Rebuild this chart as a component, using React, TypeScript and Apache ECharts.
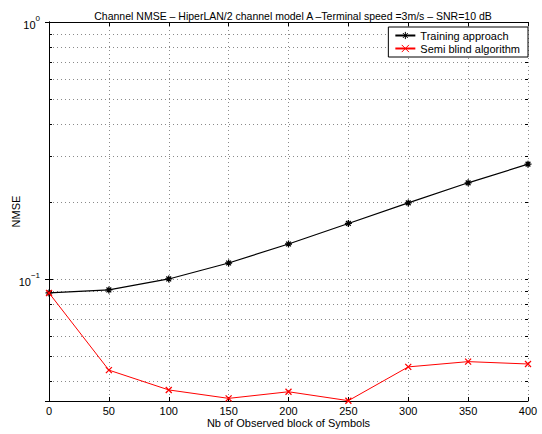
import React, { useEffect, useRef } from "react";
import * as echarts from "echarts";

const xValues = [0, 50, 100, 150, 200, 250, 300, 350, 400];
const training = [0.0884, 0.0908, 0.1002, 0.1156, 0.137, 0.1647, 0.198, 0.237, 0.28];
const semiBlind = [0.0884, 0.0443, 0.0371, 0.0344, 0.0365, 0.0337, 0.0456, 0.0478, 0.0468];
const yGridValues = [0.04, 0.05, 0.06, 0.07, 0.08, 0.09, 0.1, 0.2, 0.3, 0.4, 0.5, 0.6, 0.7, 0.8, 0.9];
const yMin = 0.0336;
const yMax = 1;
const xMin = 0;
const xMax = 400;
const xInterval = 50;

const FONT = "'Liberation Sans', Arial, Helvetica, sans-serif";
const asterisk = "path://M5,0L5,10M0,5L10,5M1.6,1.6L8.4,8.4M8.4,1.6L1.6,8.4";
const cross = "path://M0,0L10,10M10,0L0,10";

export default function App() {
  const ref = useRef<HTMLDivElement>(null);
  useEffect(() => {
    if (!ref.current) return;
    const chart = echarts.init(ref.current, null, { renderer: "svg" });
    const gridLine = { color: "#8a8a8a", type: [1, 3] as any, width: 1 };
    const tickLen = 4;
    const minorTickData: any[] = [];
    yGridValues.forEach((v) => {
      minorTickData.push([{ coord: [xMin, v] }, { coord: [xMin + 2.5, v] }]);
      minorTickData.push([{ coord: [xMax - 2.5, v] }, { coord: [xMax, v] }]);
    });
    const fmtLog = (v: number) => {
      const e = Math.log10(v);
      if (Math.abs(e - Math.round(e)) > 1e-6) return "";
      const r = Math.round(e);
      return `{b|10}{s|${r === 0 ? "0" : "\u2212" + Math.abs(r)}}`;
    };
    chart.setOption({
      animation: false,
      textStyle: { fontFamily: FONT },
      title: {
        text: "Channel NMSE \u2013 HiperLAN/2 channel model A \u2013Terminal speed =3m/s \u2013 SNR=10 dB",
        left: 288,
        textAlign: "center",
        top: 5,
        textStyle: { fontSize: 10.5, fontWeight: "normal", color: "#000", fontFamily: FONT },
      },
      legend: {
        orient: "vertical",
        right: 14,
        top: 27,
        backgroundColor: "#fff",
        borderColor: "#000",
        borderWidth: 1,
        borderRadius: 0,
        padding: [3, 8, 3, 6],
        itemGap: 2,
        itemWidth: 20,
        itemHeight: 9,
        itemStyle: { color: "transparent", borderWidth: 1 },
        textStyle: { fontSize: 11, color: "#000", fontFamily: FONT },
        data: ["Training approach", "Semi blind algorithm"],
      },
      grid: { left: 49, right: 14, top: 22, bottom: 33, containLabel: false, outerBoundsMode: "none" },
      xAxis: [
        {
          type: "value",
          min: xMin,
          max: xMax,
          interval: xInterval,
          name: "Nb of Observed block of Symbols",
          nameLocation: "middle",
          nameGap: 16,
          nameMoveOverlap: false,
          nameTextStyle: { fontSize: 11, color: "#000", fontFamily: FONT },
          axisLine: { lineStyle: { color: "#000", width: 1 } },
          axisTick: { inside: true, length: tickLen, lineStyle: { color: "#000" } },
          axisLabel: { fontSize: 11, color: "#000", margin: 4, fontFamily: FONT },
          splitLine: { show: true, lineStyle: gridLine },
        },
        {
          type: "value",
          position: "top",
          min: xMin,
          max: xMax,
          interval: xInterval,
          axisLine: { lineStyle: { color: "#000", width: 1 } },
          axisTick: { inside: true, length: tickLen, lineStyle: { color: "#000" } },
          axisLabel: { show: false },
          splitLine: { show: false },
        },
      ],
      yAxis: [
        {
          type: "log",
          logBase: 10,
          min: yMin,
          max: yMax,
          name: "NMSE",
          nameLocation: "middle",
          nameGap: 28,
          nameMoveOverlap: false,
          nameRotate: 90,
          nameTextStyle: { fontSize: 11, color: "#000", fontFamily: FONT },
          axisLine: { show: true, lineStyle: { color: "#000", width: 1 } },
          axisTick: { inside: true, length: tickLen, lineStyle: { color: "#000" } },
          axisLabel: {
            formatter: fmtLog,
            margin: 9,
            showMinLabel: false,
            rich: {
              b: { fontSize: 11, color: "#000", fontFamily: FONT, lineHeight: 16, verticalAlign: "bottom" },
              s: { fontSize: 8, color: "#000", fontFamily: FONT, lineHeight: 16, verticalAlign: "top", padding: [0, 0, 6, 0] },
            },
          },
          splitLine: { show: false },
        },
        {
          type: "log",
          logBase: 10,
          min: yMin,
          max: yMax,
          position: "right",
          axisLine: { show: true, lineStyle: { color: "#000", width: 1 } },
          axisTick: { inside: true, length: tickLen, lineStyle: { color: "#000" } },
          axisLabel: { show: false },
          splitLine: { show: false },
        },
      ],
      series: [
        {
          name: "Training approach",
          type: "line",
          data: xValues.map((x, i) => [x, training[i]]),
          symbol: asterisk,
          symbolSize: 7,
          showAllSymbol: true,
          lineStyle: { color: "#000", width: 1.2 },
          itemStyle: { color: "transparent", borderColor: "#000", borderWidth: 1.3 },
          z: 3,
          markLine: {
            silent: true,
            symbol: "none",
            label: { show: false },
            lineStyle: gridLine,
            data: yGridValues.map((v) => ({ yAxis: v })),
            z: 1,
          },
        },
        {
          name: "Semi blind algorithm",
          type: "line",
          data: xValues.map((x, i) => [x, semiBlind[i]]),
          symbol: cross,
          symbolSize: 6,
          showAllSymbol: true,
          lineStyle: { color: "#ff0000", width: 1 },
          itemStyle: { color: "transparent", borderColor: "#ff0000", borderWidth: 1.3 },
          z: 4,
          markLine: {
            silent: true,
            symbol: "none",
            label: { show: false },
            lineStyle: { color: "#000", width: 1, type: "solid" },
            data: minorTickData,
            z: 2,
          },
        },
      ],
    });
    return () => chart.dispose();
  }, []);
  return <div ref={ref} style={{ width: 542, height: 434, position: "absolute", left: 0, top: 0, background: "#fff" }} />;
}
